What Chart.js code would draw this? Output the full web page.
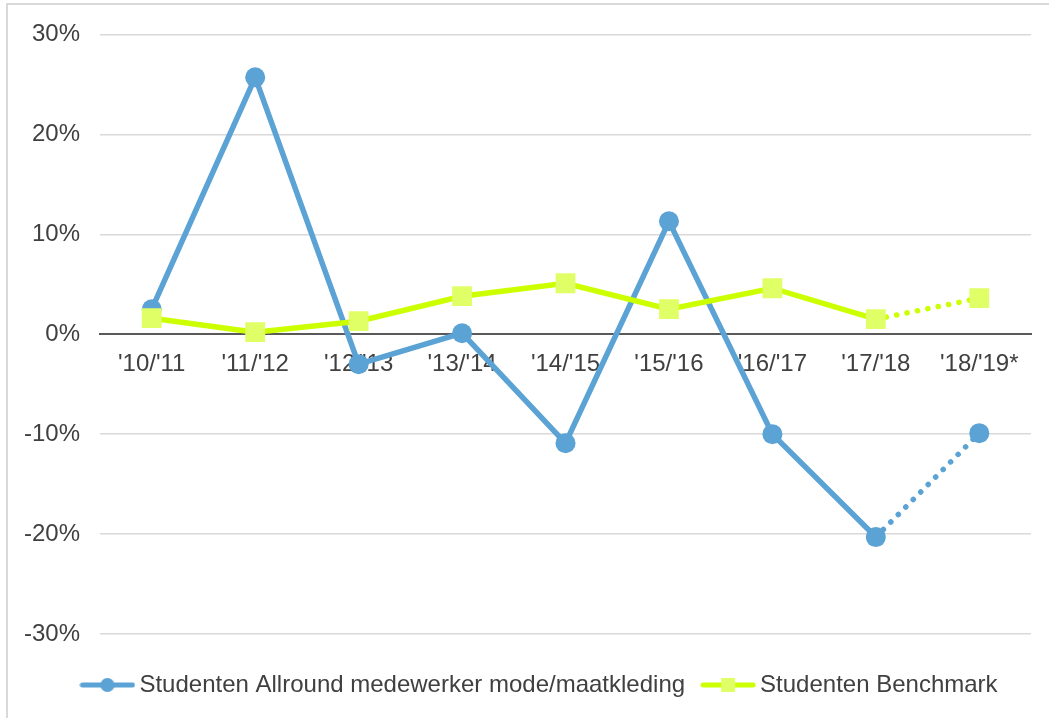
<!DOCTYPE html>
<html>
<head>
<meta charset="utf-8">
<script src="https://cdn.jsdelivr.net/npm/chart.js@4/dist/chart.umd.min.js"></script>
<style>
    html, body { margin: 0; padding: 0; background: #fff; overflow: hidden; }
    #wrap { position: relative; width: 1049px; height: 718px; }
    #frame { position: absolute; left: 6px; top: 3px; width: 1100px; height: 800px; border: 2px solid #d9d9d9; box-sizing: border-box; }
    canvas { position: absolute; left: 0; top: 0; }
</style>
</head>
<body>
<div id="wrap">
    <div id="frame"></div>
    <canvas id="chart" width="1049" height="718"></canvas>
</div>
<script>
const years = ["'10/'11", "'11/'12", "'12/'13", "'13/'14", "'14/'15", "'15/'16", "'16/'17", "'17/'18", "'18/'19*"];
const allround = [2.5, 25.7, -3.0, 0.1, -10.9, 11.3, -10.0, -20.3, -9.9];
const benchmark = [1.6, 0.2, 1.3, 3.8, 5.1, 2.5, 4.6, 1.5, 3.6];
const yTicks = [-30, -20, -10, 0, 10, 20, 30];

const BLUE = '#5ba2d5';
const LIME = '#ccff00';
const LIME_MARK = '#e0ff66';
const FONT = '"Liberation Sans", Arial, sans-serif';

// last segment (estimate) is dotted
const dotted = (ctx) => ctx.p1DataIndex === years.length - 1 ? [0.1, 10.5] : undefined;

function legendIcon(kind) {
    const c = document.createElement('canvas');
    c.width = 56;
    c.height = 16;
    const g = c.getContext('2d');
    g.strokeStyle = kind === 'circle' ? BLUE : LIME;
    g.lineWidth = 5;
    g.lineCap = 'round';
    g.beginPath();
    g.moveTo(3, 8);
    g.lineTo(53, 8);
    g.stroke();
    if (kind === 'circle') {
        g.fillStyle = BLUE;
        g.beginPath();
        g.arc(28, 8, 7, 0, Math.PI * 2);
        g.fill();
    } else {
        g.fillStyle = LIME_MARK;
        g.fillRect(21, 1, 14, 14);
    }
    return c;
}

const icons = [legendIcon('circle'), legendIcon('rect')];

// the legend sits a bit lower and right of centre in the original
const legendShift = {
    id: 'legendShift',
    afterLayout(chart) {
        chart.legend.left += 25;
        chart.legend.right += 25;
        chart.legend.top += 16;
        chart.legend.bottom += 16;
    },
};

new Chart(document.getElementById('chart'), {
    type: 'line',
    data: {
        labels: years,
        datasets: [
            {
                label: 'Studenten Allround medewerker mode/maatkleding',
                data: allround,
                borderColor: BLUE,
                backgroundColor: BLUE,
                borderWidth: 5.5,
                borderCapStyle: 'round',
                pointStyle: 'circle',
                pointRadius: 10,
                pointBorderWidth: 0,
                pointBackgroundColor: BLUE,
                tension: 0,
                order: 1,
                segment: { borderDash: dotted },
            },
            {
                label: 'Studenten Benchmark',
                data: benchmark,
                borderColor: LIME,
                backgroundColor: LIME_MARK,
                borderWidth: 5.5,
                borderCapStyle: 'round',
                pointStyle: 'rect',
                pointRadius: 14,
                pointBorderWidth: 0,
                pointBackgroundColor: LIME_MARK,
                tension: 0,
                order: 0,
                segment: { borderDash: dotted },
            },
        ],
    },
    plugins: [legendShift],
    options: {
        responsive: false,
        animation: false,
        layout: {
            padding: { top: 22, left: 4, right: 18, bottom: 27 },
        },
        plugins: {
            tooltip: { enabled: false },
            legend: {
                position: 'bottom',
                labels: {
                    usePointStyle: true,
                    pointStyleWidth: 40,
                    boxHeight: 16,
                    padding: 23,
                    color: '#404040',
                    font: { family: FONT, size: 24 },
                    generateLabels() {
                        return [0, 1].map((i) => ({
                            text: i === 0 ? 'Studenten Allround medewerker mode/maatkleding' : 'Studenten Benchmark',
                            pointStyle: icons[i],
                            fillStyle: 'transparent',
                            strokeStyle: 'transparent',
                            lineWidth: 0,
                            fontColor: '#404040',
                            datasetIndex: i,
                        }));
                    },
                },
            },
        },
        scales: {
            x: {
                position: { y: 0 },
                offset: true,
                grid: { display: false },
                border: { display: true, color: '#595959', width: 2 },
                ticks: {
                    color: '#404040',
                    font: { family: FONT, size: 24 },
                    padding: 8,
                    maxRotation: 0,
                    autoSkip: false,
                },
            },
            y: {
                min: yTicks[0],
                max: yTicks[yTicks.length - 1],
                afterBuildTicks(axis) {
                    axis.ticks = yTicks.map((v) => ({ value: v }));
                },
                grid: { color: '#d9d9d9', lineWidth: 1.5, drawTicks: false },
                border: { display: false },
                ticks: {
                    color: '#404040',
                    font: { family: FONT, size: 24 },
                    padding: 20,
                    callback(value) {
                        return value + '%';
                    },
                },
            },
        },
    },
});
</script>
</body>
</html>
